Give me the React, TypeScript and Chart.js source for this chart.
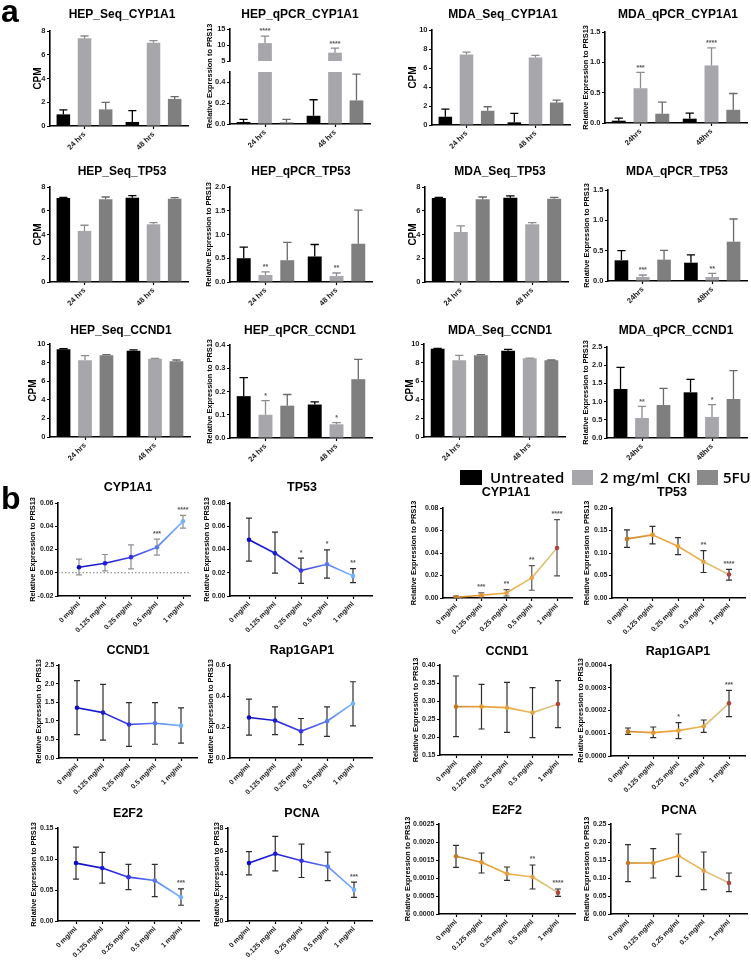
import React, { useEffect, useRef } from 'react';
import { Chart, registerables } from 'chart.js';

Chart.register(...registerables);

const F = "'Liberation Sans', Arial, Helvetica, sans-serif";

/* ================= Section a : bar charts  (values are [treatment][time]) ================= */
const timeLabels = ['24 hrs', '48 hrs'];
const timeLabelsShort = ['24hrs', '48hrs'];
const treatments = ['Untreated', '2 mg/ml  CKI', '5FU'];

const hepSeqCYP1A1 = [[0.98, 0.34], [7.39, 7.02], [1.40, 2.28]];
const hepSeqCYP1A1Up = [[1.35, 1.29], [7.58, 7.19], [1.99, 2.47]];
const hepQpcrCYP1A1 = [[0.019, 0.079], [10.6, 7.6], [0.016, 0.227]];
const hepQpcrCYP1A1Up = [[0.044, 0.233], [12.8, 9.0], [0.044, 0.479]];
const hepQpcrCYP1A1Stars = [['', ''], ['****', '****'], ['', '']];
const mdaSeqCYP1A1 = [[0.87, 0.28], [7.42, 7.11], [1.50, 2.37]];
const mdaSeqCYP1A1Up = [[1.67, 1.22], [7.67, 7.32], [1.92, 2.61]];
const mdaQpcrCYP1A1 = [[0.038, 0.071], [0.573, 0.949], [0.153, 0.218]];
const mdaQpcrCYP1A1Up = [[0.082, 0.164], [0.835, 1.238], [0.344, 0.486]];
const mdaQpcrCYP1A1Stars = [['', ''], ['***', '****'], ['', '']];

const hepSeqTP53 = [[7.07, 7.10], [4.30, 4.86], [6.96, 7.02]];
const hepSeqTP53Up = [[7.13, 7.27], [4.78, 5.00], [7.16, 7.11]];
const hepQpcrTP53 = [[0.50, 0.537], [0.148, 0.127], [0.459, 0.806]];
const hepQpcrTP53Up = [[0.735, 0.79], [0.212, 0.19], [0.834, 1.512]];
const hepQpcrTP53Stars = [['', ''], ['**', '**'], ['', '']];
const mdaSeqTP53 = [[7.07, 7.10], [4.21, 4.86], [6.96, 7.02]];
const mdaSeqTP53Up = [[7.13, 7.25], [4.72, 5.00], [7.16, 7.13]];
const mdaQpcrTP53 = [[0.341, 0.302], [0.066, 0.066], [0.352, 0.648]];
const mdaQpcrTP53Up = [[0.50, 0.429], [0.099, 0.126], [0.505, 1.022]];
const mdaQpcrTP53Stars = [['', ''], ['***', '**'], ['', '']];

const hepSeqCCND1 = [[9.43, 9.28], [8.24, 8.42], [8.78, 8.14]];
const hepSeqCCND1Up = [[9.50, 9.36], [8.75, 8.46], [8.85, 8.28]];
const hepQpcrCCND1 = [[0.18, 0.144], [0.10, 0.059], [0.139, 0.253]];
const hepQpcrCCND1Up = [[0.26, 0.155], [0.161, 0.066], [0.187, 0.338]];
const hepQpcrCCND1Stars = [['', ''], ['*', '*'], ['', '']];
const mdaSeqCCND1 = [[9.50, 9.28], [8.24, 8.46], [8.78, 8.24]];
const mdaSeqCCND1Up = [[9.53, 9.43], [8.78, 8.49], [8.85, 8.28]];
const mdaQpcrCCND1 = [[1.346, 1.255], [0.549, 0.577], [0.907, 1.071]];
const mdaQpcrCCND1Up = [[1.94, 1.612], [0.87, 0.916], [1.364, 1.85]];
const mdaQpcrCCND1Stars = [['', ''], ['**', '*'], ['', '']];

const ticksCPM8 = [0, 2, 4, 6, 8];
const ticksCPM10 = [0, 2, 4, 6, 8, 10];
const ticksBrokenHigh = [5, 10, 15];
const ticksBrokenLow = [0, 0.2, 0.4];
const ticks0to1p5 = [0, 0.5, 1.0, 1.5];
const ticks0to2 = [0, 0.5, 1.0, 1.5, 2.0];
const ticks0to0p4 = [0, 0.1, 0.2, 0.3, 0.4];
const ticks0to2p5 = [0, 0.5, 1.0, 1.5, 2.0, 2.5];

/* ================= Section b : dose-response line charts ================= */
const doseLabels = ['0 mg/ml', '0.125 mg/ml', '0.25 mg/ml', '0.5 mg/ml', '1 mg/ml'];

const bluCYP1A1 = [0.0047, 0.0082, 0.0134, 0.0220, 0.0442];
const bluCYP1A1Lo = [-0.0019, 0.0016, 0.0033, 0.0151, 0.0384];
const bluCYP1A1Hi = [0.0117, 0.0157, 0.0240, 0.0289, 0.0494];
const bluCYP1A1Stars = ['', '', '', '***', '****'];
const bluTP53 = [0.0484, 0.0368, 0.0219, 0.0273, 0.0173];
const bluTP53Lo = [0.0300, 0.0196, 0.0109, 0.0154, 0.0115];
const bluTP53Hi = [0.0670, 0.0550, 0.0326, 0.0397, 0.0236];
const bluTP53Stars = ['', '', '*', '*', '**'];
const bluCCND1 = [1.35, 1.22, 0.90, 0.935, 0.87];
const bluCCND1Lo = [0.63, 0.48, 0.31, 0.37, 0.40];
const bluCCND1Hi = [2.08, 1.98, 1.49, 1.49, 1.35];
const bluRap1GAP1 = [0.261, 0.242, 0.173, 0.237, 0.352];
const bluRap1GAP1Lo = [0.147, 0.151, 0.086, 0.140, 0.207];
const bluRap1GAP1Hi = [0.380, 0.330, 0.255, 0.330, 0.492];
const bluE2F2 = [0.0934, 0.0853, 0.0707, 0.0653, 0.0383];
const bluE2F2Lo = [0.0675, 0.0610, 0.0507, 0.0394, 0.0254];
const bluE2F2Hi = [0.1193, 0.1106, 0.0912, 0.0912, 0.0518];
const bluE2F2Stars = ['', '', '', '', '***'];
const bluPCNA = [4.98, 5.78, 5.18, 4.69, 2.68];
const bluPCNALo = [3.97, 4.32, 3.74, 3.48, 2.04];
const bluPCNAHi = [5.96, 7.28, 6.62, 5.93, 3.34];
const bluPCNAStars = ['', '', '', '', '***'];

const orgCYP1A1 = [0.0006, 0.0024, 0.0045, 0.0179, 0.0445];
const orgCYP1A1Lo = [0.0, 0.0009, 0.0018, 0.0069, 0.0197];
const orgCYP1A1Hi = [0.0018, 0.0045, 0.0075, 0.0287, 0.0696];
const orgCYP1A1Stars = ['', '***', '**', '**', '****'];
const orgTP53 = [0.1313, 0.1403, 0.1149, 0.0806, 0.0522];
const orgTP53Lo = [0.1127, 0.1201, 0.0963, 0.0567, 0.0396];
const orgTP53Hi = [0.1515, 0.1590, 0.1343, 0.1052, 0.0634];
const orgTP53Stars = ['', '', '', '**', '****'];
const orgCCND1 = [0.2843, 0.2843, 0.2815, 0.2676, 0.2917];
const orgCCND1Lo = [0.2009, 0.2222, 0.2130, 0.1981, 0.2259];
const orgCCND1Hi = [0.3694, 0.3463, 0.3519, 0.3370, 0.3565];
const orgRap1GAP1 = [0.000108, 0.0001026, 0.0001114, 0.0001304, 0.0002315];
const orgRap1GAP1Lo = [0.0000952, 0.0000806, 0.0000762, 0.000104, 0.0001729];
const orgRap1GAP1Hi = [0.000123, 0.0001275, 0.0001465, 0.0001582, 0.0002886];
const orgRap1GAP1Stars = ['', '', '*', '', '***'];
const orgE2F2 = [0.001602, 0.001435, 0.00112, 0.001028, 0.000593];
const orgE2F2Lo = [0.001296, 0.001139, 0.000935, 0.000694, 0.000491];
const orgE2F2Hi = [0.001907, 0.001694, 0.001306, 0.001361, 0.000694];
const orgE2F2Stars = ['', '', '', '**', '****'];
const orgPCNA = [0.1417, 0.1417, 0.162, 0.1204, 0.0861];
const orgPCNALo = [0.0898, 0.1, 0.1046, 0.0676, 0.062];
const orgPCNAHi = [0.1926, 0.1815, 0.2222, 0.1722, 0.1139];

const ticksBluCYP1A1 = [-0.02, 0, 0.02, 0.04, 0.06];
const ticks0to0p08 = [0, 0.02, 0.04, 0.06, 0.08];
const ticks0to0p2 = [0, 0.05, 0.10, 0.15, 0.20];
const ticks0to0p6 = [0, 0.2, 0.4, 0.6];
const ticksOrgCCND1 = [0.15, 0.20, 0.25, 0.30, 0.35, 0.40];
const ticksOrgRap = [0, 0.0001, 0.0002, 0.0003, 0.0004];
const ticks0to0p15 = [0, 0.05, 0.10, 0.15];
const ticks0to8 = [0, 2, 4, 6, 8];
const ticksOrgE2F2 = [0, 0.0005, 0.0010, 0.0015, 0.0020, 0.0025];
const ticks0to0p25 = [0, 0.05, 0.10, 0.15, 0.20, 0.25];

/* ================= styles ================= */
const barColors = ['#000000', '#a7a7ab', '#7f7f7f'];
const barErrColors = ['#000000', '#8d8d91', '#6a6a6a'];
const BLUE = {
  line: ['#1010c6', '#2020d6', '#3a3ae8', '#5a80f2', '#7ab8ff'],
  point: ['#0c0cc4', '#1c1cd4', '#3434e6', '#5878f0', '#74b4ff'],
};
const ORANGE = {
  line: ['#c98a30', '#e89c34', '#eca840', '#e6b85e', '#d6c690'],
  point: ['#c07a28', '#e3962f', '#e9a23a', '#e0a448', '#ac463c'],
};

type Box = [number, number, number, number];
interface TextPos { text: string; x: number; y?: number; size: number }
interface Spec {
  kind: 'bar' | 'line';
  plot: Box;
  canvas?: Box;
  title?: TextPos;
  yTitle?: TextPos;
  yTicks: number[];
  yMax?: number;
  dec: number;
  labels?: string[];
  values?: number[][];
  upper?: number[][];
  stars?: string[][];
  hideX?: boolean;
  mean?: number[];
  lo?: number[];
  hi?: number[];
  lstars?: string[];
  p0?: number;
  p4?: number;
  palette?: { line: string[]; point: string[] };
  errColor?: string;
  zeroLine?: boolean;
}

const RELEXP = 'Relative Expression to PRS13';
const tA = (text: string, x: number, y: number): TextPos => ({ text, x, y, size: 12 });
const tB = (text: string, x: number, y: number): TextPos => ({ text, x, y, size: 12.5 });
const cpm = (x: number): TextPos => ({ text: 'CPM', x, size: 10 });
const rel = (x: number, y?: number): TextPos => ({ text: RELEXP, x, y, size: 7.4 });

const specs: Spec[] = [
  // ---- row 1 ----
  { kind: 'bar', plot: [50, 31, 188, 126], title: tA('HEP_Seq_CYP1A1', 122, 15), yTitle: cpm(38), labels: timeLabels, values: hepSeqCYP1A1, upper: hepSeqCYP1A1Up, yTicks: ticksCPM8, dec: 0 },
  { kind: 'bar', plot: [230, 29, 370, 64], canvas: [174, 0, 374, 67], hideX: true, title: tA('HEP_qPCR_CYP1A1', 300, 15), labels: timeLabels, values: hepQpcrCYP1A1, upper: hepQpcrCYP1A1Up, stars: hepQpcrCYP1A1Stars, yTicks: ticksBrokenHigh, dec: 0 },
  { kind: 'bar', plot: [230, 72, 370, 124], canvas: [174, 0, 374, 170], yTitle: rel(210, 76), labels: timeLabels, values: hepQpcrCYP1A1, upper: hepQpcrCYP1A1Up, yTicks: ticksBrokenLow, yMax: 0.5, dec: 1 },
  { kind: 'bar', plot: [432, 30, 570, 125], title: tA('MDA_Seq_CYP1A1', 503, 15), yTitle: cpm(413), labels: timeLabels, values: mdaSeqCYP1A1, upper: mdaSeqCYP1A1Up, yTicks: ticksCPM10, dec: 0 },
  { kind: 'bar', plot: [605, 32, 747, 123], title: tA('MDA_qPCR_CYP1A1', 678, 15), yTitle: rel(586), labels: timeLabelsShort, values: mdaQpcrCYP1A1, upper: mdaQpcrCYP1A1Up, stars: mdaQpcrCYP1A1Stars, yTicks: ticks0to1p5, dec: 1 },
  // ---- row 2 ----
  { kind: 'bar', plot: [50, 187, 188, 282], title: tA('HEP_Seq_TP53', 122, 172), yTitle: cpm(38), labels: timeLabels, values: hepSeqTP53, upper: hepSeqTP53Up, yTicks: ticksCPM8, dec: 0 },
  { kind: 'bar', plot: [230, 187, 372, 282], title: tA('HEP_qPCR_TP53', 301, 172), yTitle: rel(209), labels: timeLabels, values: hepQpcrTP53, upper: hepQpcrTP53Up, stars: hepQpcrTP53Stars, yTicks: ticks0to2, dec: 1 },
  { kind: 'bar', plot: [425, 187, 568, 282], title: tA('MDA_Seq_TP53', 500, 172), yTitle: cpm(413), labels: timeLabels, values: mdaSeqTP53, upper: mdaSeqTP53Up, yTicks: ticksCPM8, dec: 0 },
  { kind: 'bar', plot: [608, 190, 747, 281], title: tA('MDA_qPCR_TP53', 677, 172), yTitle: rel(587), labels: timeLabelsShort, values: mdaQpcrTP53, upper: mdaQpcrTP53Up, stars: mdaQpcrTP53Stars, yTicks: ticks0to1p5, dec: 1 },
  // ---- row 3 ----
  { kind: 'bar', plot: [50, 344, 190, 437], title: tA('HEP_Seq_CCND1', 121, 331), yTitle: cpm(33), labels: timeLabels, values: hepSeqCCND1, upper: hepSeqCCND1Up, yTicks: ticksCPM10, dec: 0 },
  { kind: 'bar', plot: [230, 345, 372, 438], title: tA('HEP_qPCR_CCND1', 300, 331), yTitle: rel(210), labels: timeLabels, values: hepQpcrCCND1, upper: hepQpcrCCND1Up, stars: hepQpcrCCND1Stars, yTicks: ticks0to0p4, dec: 1 },
  { kind: 'bar', plot: [424, 344, 565, 437], title: tA('MDA_Seq_CCND1', 500, 331), yTitle: cpm(410), labels: timeLabels, values: mdaSeqCCND1, upper: mdaSeqCCND1Up, yTicks: ticksCPM10, dec: 0 },
  { kind: 'bar', plot: [607, 347, 747, 438], title: tA('MDA_qPCR_CCND1', 676, 331), yTitle: rel(586), labels: timeLabelsShort, values: mdaQpcrCCND1, upper: mdaQpcrCCND1Up, stars: mdaQpcrCCND1Stars, yTicks: ticks0to2p5, dec: 1 },

  // ---- section b, row 1 ----
  { kind: 'line', plot: [58, 503, 190, 596], p0: 79, p4: 183, title: tB('CYP1A1', 128, 488), yTitle: rel(33), mean: bluCYP1A1, lo: bluCYP1A1Lo, hi: bluCYP1A1Hi, lstars: bluCYP1A1Stars, yTicks: ticksBluCYP1A1, dec: 2, palette: BLUE, errColor: '#8e8e8e', zeroLine: true },
  { kind: 'line', plot: [230, 503, 372, 596], p0: 249, p4: 353, title: tB('TP53', 302, 488), yTitle: rel(207), mean: bluTP53, lo: bluTP53Lo, hi: bluTP53Hi, lstars: bluTP53Stars, yTicks: ticks0to0p08, dec: 2, palette: BLUE },
  { kind: 'line', plot: [443, 508, 572, 598], p0: 456, p4: 557, title: tB('CYP1A1', 506, 493), yTitle: rel(414), mean: orgCYP1A1, lo: orgCYP1A1Lo, hi: orgCYP1A1Hi, lstars: orgCYP1A1Stars, yTicks: ticks0to0p08, dec: 2, palette: ORANGE, errColor: '#555555' },
  { kind: 'line', plot: [612, 508, 745, 598], p0: 627, p4: 729, title: tB('TP53', 672, 493), yTitle: rel(587), mean: orgTP53, lo: orgTP53Lo, hi: orgTP53Hi, lstars: orgTP53Stars, yTicks: ticks0to0p2, dec: 2, palette: ORANGE },
  // ---- section b, row 2 ----
  { kind: 'line', plot: [59, 665, 197, 758], p0: 77, p4: 181, title: tB('CCND1', 128, 651), yTitle: rel(39), mean: bluCCND1, lo: bluCCND1Lo, hi: bluCCND1Hi, yTicks: ticks0to2p5, dec: 1, palette: BLUE },
  { kind: 'line', plot: [230, 665, 372, 758], p0: 249, p4: 353, title: tB('Rap1GAP1', 302, 651), yTitle: rel(211), mean: bluRap1GAP1, lo: bluRap1GAP1Lo, hi: bluRap1GAP1Hi, yTicks: ticks0to0p6, dec: 1, palette: BLUE },
  { kind: 'line', plot: [440, 665, 572, 755], p0: 456, p4: 558, title: tB('CCND1', 507, 652), yTitle: rel(416), mean: orgCCND1, lo: orgCCND1Lo, hi: orgCCND1Hi, yTicks: ticksOrgCCND1, dec: 2, palette: ORANGE },
  { kind: 'line', plot: [611, 665, 745, 756], p0: 628, p4: 729, title: tB('Rap1GAP1', 678, 652), yTitle: rel(581), mean: orgRap1GAP1, lo: orgRap1GAP1Lo, hi: orgRap1GAP1Hi, lstars: orgRap1GAP1Stars, yTicks: ticksOrgRap, dec: 4, palette: ORANGE },
  // ---- section b, row 3 ----
  { kind: 'line', plot: [58, 828, 199, 921], p0: 76, p4: 181, title: tB('E2F2', 128, 814), yTitle: rel(34), mean: bluE2F2, lo: bluE2F2Lo, hi: bluE2F2Hi, lstars: bluE2F2Stars, yTicks: ticks0to0p15, dec: 2, palette: BLUE },
  { kind: 'line', plot: [228, 828, 372, 921], p0: 249, p4: 354, title: tB('PCNA', 302, 814), yTitle: rel(217), mean: bluPCNA, lo: bluPCNALo, hi: bluPCNAHi, lstars: bluPCNAStars, yTicks: ticks0to8, dec: 0, palette: BLUE },
  { kind: 'line', plot: [439, 824, 575, 914], p0: 456, p4: 558, title: tB('E2F2', 507, 811), yTitle: rel(408), mean: orgE2F2, lo: orgE2F2Lo, hi: orgE2F2Hi, lstars: orgE2F2Stars, yTicks: ticksOrgE2F2, dec: 4, palette: ORANGE },
  { kind: 'line', plot: [611, 824, 747, 914], p0: 628, p4: 729, title: tB('PCNA', 679, 811), yTitle: rel(587), mean: orgPCNA, lo: orgPCNALo, hi: orgPCNAHi, yTicks: ticks0to0p25, dec: 2, palette: ORANGE },
];

function canvasBox(s: Spec): Box {
  if (s.canvas) return s.canvas;
  const [L, T, R, B] = s.plot;
  return [L - 56, T - 34, R + 4, B + 46];
}

function makeDecor(s: Spec, cl: number, ct: number) {
  const clipArea = (ctx: CanvasRenderingContext2D, a: any) => {
    ctx.beginPath();
    ctx.rect(a.left - 4, a.top - 1, a.right - a.left + 8, a.bottom - a.top + 2);
    ctx.clip();
  };
  return {
    id: 'decor',
    beforeDatasetsDraw(chart: any) {
      const { ctx, chartArea: a, scales } = chart;
      const xs = scales.x, ys = scales.y;
      ctx.save();
      if (s.zeroLine) {
        const y0 = ys.getPixelForValue(0);
        ctx.strokeStyle = '#777';
        ctx.lineWidth = 1;
        ctx.setLineDash([1.5, 2]);
        ctx.beginPath();
        ctx.moveTo(a.left, y0);
        ctx.lineTo(a.right, y0);
        ctx.stroke();
        ctx.setLineDash([]);
      }
      if (s.kind === 'line' && s.mean && s.lo && s.hi) {
        clipArea(ctx, a);
        ctx.strokeStyle = s.errColor || '#2e2e2e';
        ctx.lineWidth = 1.2;
        s.mean.forEach((_, i) => {
          const x = xs.getPixelForValue(i);
          const y1 = ys.getPixelForValue(s.lo![i]);
          const y2 = ys.getPixelForValue(s.hi![i]);
          ctx.beginPath();
          ctx.moveTo(x, y1); ctx.lineTo(x, y2);
          ctx.moveTo(x - 3, y1); ctx.lineTo(x + 3, y1);
          ctx.moveTo(x - 3, y2); ctx.lineTo(x + 3, y2);
          ctx.stroke();
        });
      }
      ctx.restore();
    },
    afterDatasetsDraw(chart: any) {
      const { ctx, chartArea: a, scales } = chart;
      const xs = scales.x, ys = scales.y;
      ctx.save();
      ctx.font = `bold 7px ${F}`;
      ctx.textAlign = 'center';
      ctx.textBaseline = 'bottom';
      if (s.kind === 'bar' && s.upper) {
        ctx.save();
        clipArea(ctx, a);
        s.upper.forEach((row, di) => {
          const meta = chart.getDatasetMeta(di);
          row.forEach((u, j) => {
            const el = meta.data[j];
            const x = el.x, w = el.width;
            const yTop = ys.getPixelForValue(u);
            ctx.strokeStyle = barErrColors[di];
            ctx.lineWidth = 1.3;
            ctx.beginPath();
            ctx.moveTo(x, el.y); ctx.lineTo(x, yTop);
            ctx.moveTo(x - w * 0.3, yTop); ctx.lineTo(x + w * 0.3, yTop);
            ctx.stroke();
          });
        });
        ctx.restore();
        if (s.stars) {
          ctx.fillStyle = '#555';
          s.stars.forEach((row, di) => {
            const meta = chart.getDatasetMeta(di);
            row.forEach((st, j) => {
              if (!st) return;
              const el = meta.data[j];
              ctx.fillText(st, el.x, ys.getPixelForValue(s.upper![di][j]) - 1);
            });
          });
        }
      }
      if (s.kind === 'line' && s.lstars && s.hi) {
        ctx.fillStyle = '#555';
        s.lstars.forEach((st, i) => {
          if (!st) return;
          ctx.fillText(st, xs.getPixelForValue(i), ys.getPixelForValue(s.hi![i]) - 2);
        });
      }
      ctx.restore();
    },
    afterDraw(chart: any) {
      const { ctx, chartArea: a } = chart;
      ctx.save();
      ctx.fillStyle = '#000';
      ctx.textAlign = 'center';
      ctx.textBaseline = 'middle';
      if (s.title) {
        ctx.font = `bold ${s.title.size}px ${F}`;
        ctx.fillText(s.title.text, s.title.x - cl, (s.title.y || 0) - ct);
      }
      if (s.yTitle) {
        const yc = s.yTitle.y !== undefined ? s.yTitle.y - ct : (a.top + a.bottom) / 2;
        ctx.translate(s.yTitle.x - cl, yc);
        ctx.rotate(-Math.PI / 2);
        ctx.font = `bold ${s.yTitle.size}px ${F}`;
        ctx.fillText(s.yTitle.text, 0, 0);
      }
      ctx.restore();
    },
  };
}

function buildConfig(s: Spec): any {
  const [L, T, R, B] = s.plot;
  const [cl, ct, cr, cb] = canvasBox(s);
  const tickFont = { family: F, size: s.kind === 'bar' ? 7.5 : 7, weight: 'bold' as const };
  const axisGrid = { drawOnChartArea: false, drawTicks: true, tickLength: 3, tickWidth: 1.2, color: '#000', offset: false };
  const axisBorder = { color: '#000', width: 1.6 };
  const y = {
    type: 'linear',
    min: s.yTicks[0],
    max: s.yMax !== undefined ? s.yMax : s.yTicks[s.yTicks.length - 1],
    afterBuildTicks: (sc: any) => { sc.ticks = s.yTicks.map((v) => ({ value: v })); },
    afterFit: (sc: any) => { sc.width = L - cl; },
    ticks: { font: tickFont, color: '#1a1a1a', padding: 1.5, callback: (v: any) => Number(v).toFixed(s.dec) },
    grid: axisGrid,
    border: axisBorder,
  };
  const common = {
    animation: false,
    responsive: false,
    events: [],
    layout: { padding: { top: T - ct, right: cr - R, left: 0, bottom: s.hideX ? cb - B : 0 } },
    plugins: { legend: { display: false }, tooltip: { enabled: false } },
  };
  if (s.kind === 'bar') {
    return {
      type: 'bar',
      data: {
        labels: s.labels,
        datasets: s.values!.map((vals, i) => ({
          label: treatments[i],
          data: vals,
          backgroundColor: barColors[i],
          borderWidth: 0,
          categoryPercentage: 0.92,
          barPercentage: 0.64,
        })),
      },
      options: {
        ...common,
        scales: {
          x: {
            type: 'category',
            display: !s.hideX,
            offset: true,
            grid: axisGrid,
            border: axisBorder,
            ticks: { font: tickFont, color: '#1a1a1a', minRotation: 45, maxRotation: 45, autoSkip: false, padding: 1 },
            afterFit: (sc: any) => { sc.height = cb - B; },
          },
          y,
        },
      },
      plugins: [makeDecor(s, cl, ct)],
    };
  }
  const step = (s.p4! - s.p0!) / 4;
  const pal = s.palette!;
  return {
    type: 'line',
    data: {
      datasets: [{
        label: s.title ? s.title.text : '',
        data: s.mean!.map((v, i) => ({ x: i, y: v })),
        borderColor: pal.line[0],
        borderWidth: 1.6,
        tension: 0,
        pointStyle: 'circle',
        pointRadius: 2.3,
        pointBorderWidth: 0,
        pointBackgroundColor: pal.point,
        pointBorderColor: pal.point,
        segment: {
          borderColor: (c: any) => {
            const g = c.chart.ctx.createLinearGradient(c.p0.x, 0, c.p1.x, 0);
            g.addColorStop(0, pal.line[c.p0DataIndex]);
            g.addColorStop(1, pal.line[c.p1DataIndex]);
            return g;
          },
        },
      }],
    },
    options: {
      ...common,
      scales: {
        x: {
          type: 'linear',
          min: -(s.p0! - L) / step,
          max: 4 + (R - s.p4!) / step,
          afterBuildTicks: (sc: any) => { sc.ticks = doseLabels.map((_, i) => ({ value: i })); },
          afterFit: (sc: any) => { sc.height = cb - B; },
          grid: axisGrid,
          border: axisBorder,
          ticks: { font: tickFont, color: '#1a1a1a', minRotation: 45, maxRotation: 45, autoSkip: false, padding: 1, callback: (v: any) => doseLabels[Math.round(Number(v))] || '' },
        },
        y,
      },
    },
    plugins: [makeDecor(s, cl, ct)],
  };
}

function Panel({ spec }: { spec: Spec }) {
  const ref = useRef<HTMLCanvasElement>(null);
  const [l, t, r, b] = canvasBox(spec);
  useEffect(() => {
    const chart = new Chart(ref.current as HTMLCanvasElement, buildConfig(spec));
    return () => chart.destroy();
  }, [spec]);
  return (
    <canvas
      ref={ref}
      width={r - l}
      height={b - t}
      style={{ position: 'absolute', left: l, top: t, width: r - l, height: b - t }}
    />
  );
}

const legendFont = "'Open Sans', 'Noto Sans', Arial, sans-serif";

export default function App() {
  return (
    <div style={{ position: 'absolute', left: 0, top: 0, width: 751, height: 960, background: '#fff', overflow: 'hidden' }}>
      {specs.map((s, i) => <Panel key={i} spec={s} />)}
      <div style={{ position: 'absolute', left: 1, top: -5, font: `bold 32px/32px ${F}`, color: '#000' }}>a</div>
      <div style={{ position: 'absolute', left: 1, top: 482, font: `bold 32px/32px ${F}`, color: '#000' }}>b</div>
      {/* shared legend */}
      <div style={{ position: 'absolute', left: 460, top: 470, width: 22, height: 15, background: barColors[0] }} />
      <div style={{ position: 'absolute', left: 490, top: 470, font: `600 15px/15px ${legendFont}`, color: '#000', whiteSpace: 'pre' }}>{treatments[0]}</div>
      <div style={{ position: 'absolute', left: 572, top: 470, width: 21, height: 15, background: barColors[1] }} />
      <div style={{ position: 'absolute', left: 600, top: 470, font: `600 15px/15px ${legendFont}`, color: '#000', whiteSpace: 'pre' }}>{treatments[1]}</div>
      <div style={{ position: 'absolute', left: 697, top: 470, width: 21, height: 15, background: '#8a8a8a' }} />
      <div style={{ position: 'absolute', left: 723, top: 470, font: `600 15px/15px ${legendFont}`, color: '#000', whiteSpace: 'pre' }}>{treatments[2]}</div>
    </div>
  );
}
